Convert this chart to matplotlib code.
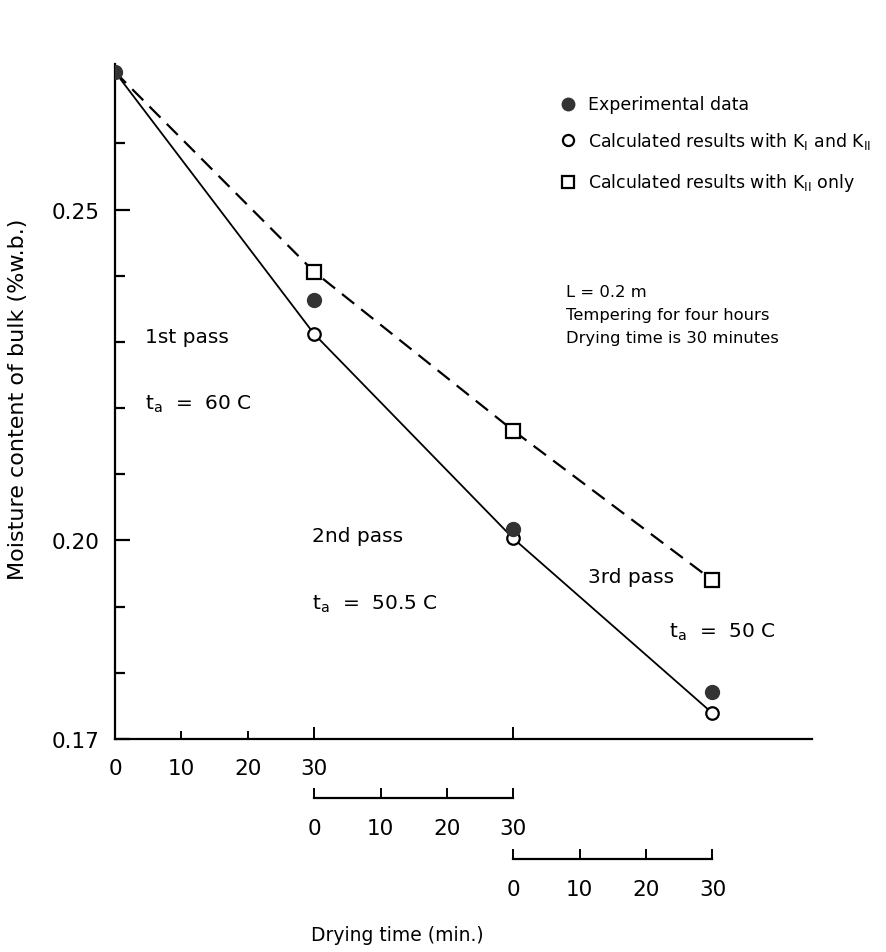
import matplotlib
matplotlib.use('Agg')
import matplotlib.pyplot as plt
import numpy as np

plt.rcParams['font.family'] = ['DejaVu Sans']
plt.rcParams['mathtext.fontset'] = 'dejavusans'

# drying time (cumulative min.) for the three passes
time = [0, 30, 60, 90]
experimental = [0.2708, 0.2364, 0.2018, 0.1771]
calc_k1_k2 = [0.2708, 0.2312, 0.2003, 0.1739]
calc_k2_only = [0.2708, 0.2406, 0.2166, 0.1940]

sub_ticks = [0, 10, 20, 30]
sub_labels = ['0', '10', '20', '30']

fig = plt.figure(figsize=(8.86, 9.53), dpi=100)
ax = fig.add_axes([0.1298, 0.2235, 0.7867, 0.7083])

ax.plot(time, calc_k2_only, color='black', lw=1.6, ls=(0, (7, 4)), zorder=2)
ax.plot(time, calc_k1_k2, color='black', lw=1.3, zorder=2)
ax.plot(time[1:], calc_k2_only[1:], 's', ms=10, mfc='white', mec='black', mew=1.6, zorder=3)
ax.plot(time[1:], calc_k1_k2[1:], 'o', ms=9, mfc='white', mec='black', mew=1.6, zorder=3)
ax.plot(time, experimental, 'o', ms=10, color='#333333', zorder=4)

ax.set_xlim(0, 105)
ax.set_ylim(0.17, 0.272)

for s in ['top', 'right']:
    ax.spines[s].set_visible(False)
for s in ['left', 'bottom']:
    ax.spines[s].set_linewidth(1.6)

ax.set_yticks([0.17, 0.20, 0.25])
ax.set_yticklabels(['0.17', '0.20', '0.25'])
ax.set_yticks(np.arange(0.18, 0.265, 0.01), minor=True)
ax.tick_params(axis='y', which='major', direction='in', length=11, width=1.6, pad=11, labelsize=15.5)
ax.tick_params(axis='y', which='minor', direction='in', length=7, width=1.6)

ax.set_xticks([0, 30, 60])
ax.set_xticklabels(['0', '30', ''])
ax.set_xticks([10, 20], minor=True)
ax.set_xticklabels(['10', '20'], minor=True)
ax.tick_params(axis='x', which='major', direction='in', length=9, width=1.4, pad=14, labelsize=15.5)
ax.tick_params(axis='x', which='minor', direction='in', length=6, width=1.4, pad=14, labelsize=15.5)

# second and third pass time axes
for off, loc in [(30, -0.0875), (60, -0.1780)]:
    sec = ax.secondary_xaxis(loc, functions=(lambda x, o=off: x - o, lambda x, o=off: x + o))
    sec.set_xticks(sub_ticks)
    sec.set_xticklabels(sub_labels)
    sec.spines['bottom'].set_bounds(0, 30)
    sec.spines['bottom'].set_linewidth(1.6)
    sec.tick_params(direction='in', length=7, width=1.4, pad=14, labelsize=15.5)

ax.set_ylabel('Moisture content of bulk (%w.b.)', fontsize=16)
ax.yaxis.set_label_coords(-0.125, 0.505)
ax.annotate('Drying time (min.)', xy=(42.5, -0.29), xycoords=('data', 'axes fraction'),
            ha='center', va='center', fontsize=13.5)

# legend drawn by hand
ax.plot([68.2], [0.2660], 'o', ms=9, color='#333333', clip_on=False)
ax.plot([68.2], [0.2605], 'o', ms=8, mfc='white', mec='black', mew=1.6, clip_on=False)
ax.plot([68.2], [0.2542], 's', ms=9, mfc='white', mec='black', mew=1.6, clip_on=False)
ax.text(71.2, 0.2660, 'Experimental data', va='center', fontsize=12.5)
ax.text(71.2, 0.2605, r'Calculated results with K$_{\rm I}$ and K$_{\rm II}$', va='center', fontsize=12.5)
ax.text(71.2, 0.2542, r'Calculated results with K$_{\rm II}$ only', va='center', fontsize=12.5)

ax.text(67.9, 0.2376, 'L = 0.2 m', va='center', fontsize=11.8)
ax.text(67.9, 0.2341, 'Tempering for four hours', va='center', fontsize=11.8)
ax.text(67.9, 0.2306, 'Drying time is 30 minutes', va='center', fontsize=11.8)

ax.text(4.5, 0.2308, '1st pass', va='center', fontsize=14.5)
ax.text(4.5, 0.2207, r't$_{\rm a}$  =  60 C', va='center', fontsize=14.5)
ax.text(29.7, 0.2008, '2nd pass', va='center', fontsize=14.5)
ax.text(29.7, 0.1905, r't$_{\rm a}$  =  50.5 C', va='center', fontsize=14.5)
ax.text(71.3, 0.1946, '3rd pass', va='center', fontsize=14.5)
ax.text(83.4, 0.1863, r't$_{\rm a}$  =  50 C', va='center', fontsize=14.5)

fig.savefig('out.png', dpi=100)
